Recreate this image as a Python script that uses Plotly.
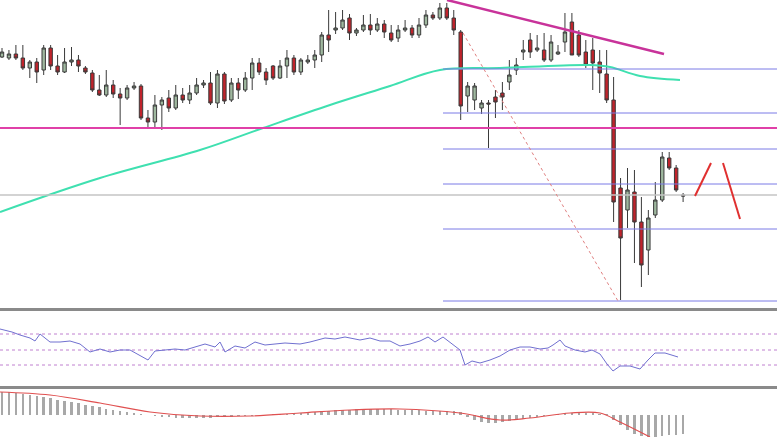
import numpy as np
import plotly.graph_objects as go

# candle values (screen units, top = 0)
opens = [57, 58, 54, 58, 68, 62, 70, 48, 66, 72, 62, 60, 68, 73, 90, 95, 85, 94, 98, 88,
         86, 118, 122, 105, 98, 108, 95, 100, 93, 85, 83, 103, 74, 100, 83, 90, 78, 63, 72, 66,
         78, 66, 58, 72, 62, 60, 55, 35, 30, 28, 18, 33, 30, 25, 30, 24, 33, 38, 30, 28,
         35, 25, 15, 18, 8, 18, 32, 96, 100, 108, 103, 97, 93, 82, 70, 52, 40, 50, 50, 60,
         54, 42, 22, 35, 52, 50, 62, 74, 100, 188, 210, 192, 222, 250, 215, 200, 158,
         168, 195]
closes = [52, 54, 58, 68, 62, 72, 48, 66, 72, 62, 60, 66, 72, 90, 95, 85, 94, 98, 88, 86,
          118, 122, 105, 100, 108, 95, 100, 93, 85, 83, 103, 74, 101, 83, 90, 78, 63, 72, 80, 78,
          66, 58, 72, 60, 60, 55, 35, 40, 28, 20, 33, 30, 25, 30, 24, 32, 40, 30, 28, 35,
          25, 15, 18, 8, 18, 30, 106, 86, 86, 103, 104, 102, 97, 75, 65, 50, 52, 48, 60, 42,
          52, 32, 55, 55, 65, 63, 73, 100, 202, 238, 190, 222, 265, 218, 200, 157, 168,
          190, 196]
highs = [48, 50, 45, 45, 60, 58, 45, 45, 55, 48, 47, 55, 66, 70, 75, 70, 80, 88, 85, 82,
         84, 110, 95, 97, 90, 85, 88, 85, 78, 80, 72, 70, 72, 78, 78, 72, 58, 58, 68, 65,
         60, 50, 55, 58, 55, 50, 32, 10, 12, 10, 14, 28, 15, 14, 18, 20, 25, 25, 20, 25,
         18, 10, 12, 3, 3, 10, 30, 82, 83, 100, 100, 90, 82, 60, 58, 40, 33, 35, 33, 35,
         45, 13, 13, 30, 40, 38, 50, 50, 77, 178, 168, 170, 197, 210, 182, 152, 152,
         165, 193]
lows = [58, 60, 60, 70, 78, 83, 75, 70, 75, 73, 66, 72, 74, 92, 96, 97, 98, 125, 100, 90,
        120, 128, 128, 130, 112, 110, 103, 104, 95, 88, 105, 108, 104, 102, 99, 92, 90, 75, 85, 80,
        79, 78, 75, 75, 64, 68, 62, 52, 34, 30, 40, 36, 32, 35, 32, 38, 42, 42, 32, 38,
        38, 28, 20, 20, 20, 35, 120, 112, 110, 114, 148, 118, 110, 90, 75, 60, 58, 52, 62, 62,
        55, 52, 55, 57, 68, 90, 93, 103, 222, 300, 228, 263, 287, 275, 218, 202, 170,
        192, 202]

ma_px = [0, 100, 200, 263, 330, 390, 440, 500, 590, 610, 640, 680]
ma_py = [212, 178, 150, 128, 105, 86, 70, 68, 65, 67, 76, 80]

fib_levels = [69, 113, 149, 184, 229, 301]

rsi_px = [0, 12, 20, 30, 35, 40, 50, 60, 70, 80, 90, 100, 110, 120, 130, 140, 148, 155, 165, 175,
          185, 195, 205, 215, 220, 225, 235, 245, 255, 265, 275, 285, 300, 310, 325, 335, 345, 360,
          370, 380, 390, 400, 410, 420, 428, 435, 443, 450, 460, 465, 472, 480, 490, 500, 510, 520,
          530, 540, 548, 553, 560, 565, 575, 585, 592, 600, 607, 613, 620, 630, 640, 648, 655, 665, 678]
rsi_py = [329, 332, 335, 338, 341, 334, 342, 342, 341, 344, 352, 349, 352, 350, 350, 356, 360, 351,
          350, 349, 350, 347, 344, 347, 342, 352, 346, 348, 342, 345, 344, 343, 344, 342, 338, 339,
          337, 340, 338, 341, 341, 346, 344, 341, 337, 342, 337, 342, 350, 365, 361, 363, 360, 356,
          350, 347, 347, 349, 348, 345, 340, 346, 350, 352, 350, 354, 364, 371, 366, 366, 369, 360,
          353, 353, 357]

macd_hist = [23, 23, 22, 21, 20, 19, 18, 17, 15, 14, 13, 12, 10, 9, 8, 6, 5, 4, 3, 2, 1, 0,
             -1, -2, -2, -3, -3, -3, -3, -3, -3, -2, -2, -2, -1, -1, -1, 0, 0, 1, 1, 1, 2, 2, 3,
             3, 4, 4, 5, 5, 5, 6, 6, 6, 6, 6, 6, 5, 5, 5, 5, 4, 4, 4, 4, 4, 3,
             -2, -5, -7, -8, -8, -7, -6, -5, -4, -3, -2, -1, 0, 1,
             2, 2, 2, 2, 2, 1, 1,
             -5, -10, -15, -19, -21, -22, -22, -21, -20, -20, -19]
sig_px = [0, 50, 100, 150, 200, 250, 300, 350, 400, 460, 500, 530, 570, 600, 620, 650]
sig_py = [392, 395, 403, 412, 416, 416, 413, 410, 409, 413, 420, 418, 413, 413, 422, 437]

W, H = 777, 437
STEP = 6.95


def ix(px):
    return (np.asarray(px, dtype=float) - 2) / STEP


def pr(py):
    return 310 - np.asarray(py, dtype=float)


n = len(opens)
xs = np.arange(n)
fig = go.Figure()

fig.add_trace(go.Candlestick(
    x=xs, open=pr(opens), high=pr(highs), low=pr(lows), close=pr(closes),
    increasing=dict(fillcolor="#9fb89f", line=dict(color="#3a3a3a", width=1)),
    decreasing=dict(fillcolor="#c0232b", line=dict(color="#3a3a3a", width=1)),
    whiskerwidth=0, showlegend=False))

fig.add_trace(go.Scatter(x=ix(ma_px), y=pr(ma_py), mode="lines",
                         line=dict(color="#3fe0b0", width=2), line_shape="spline"))

line_x = [ix(0), ix(W)]
fib_x = [ix(443), ix(W)]
for lv in fib_levels:
    fig.add_trace(go.Scatter(x=fib_x, y=pr([lv, lv]), mode="lines",
                             line=dict(color="#7a7ae6", width=1)))
fig.add_trace(go.Scatter(x=line_x, y=pr([195, 195]), mode="lines",
                         line=dict(color="#c4c4c4", width=1.5)))
fig.add_trace(go.Scatter(x=line_x, y=pr([128, 128]), mode="lines",
                         line=dict(color="#e040a8", width=2)))
fig.add_trace(go.Scatter(x=ix([447, 664]), y=pr([0, 54]), mode="lines",
                         line=dict(color="#c8339a", width=2.5)))
fig.add_trace(go.Scatter(x=ix([463, 618]), y=pr([33, 301]), mode="lines",
                         line=dict(color="#e08080", width=1, dash="dot")))
fig.add_trace(go.Scatter(x=ix([695, 711]), y=pr([196, 163]), mode="lines",
                         line=dict(color="#e03030", width=2)))
fig.add_trace(go.Scatter(x=ix([723, 740]), y=pr([163, 219]), mode="lines",
                         line=dict(color="#e03030", width=2)))

# RSI panel
for lv in [334, 350, 365]:
    fig.add_trace(go.Scatter(x=line_x, y=[lv, lv], mode="lines", yaxis="y2",
                             line=dict(color="#c080d0", width=1, dash="dot")))
fig.add_trace(go.Scatter(x=ix(rsi_px), y=rsi_py, mode="lines", yaxis="y2",
                         line=dict(color="#7070d0", width=1)))

# MACD panel
hist = np.array(macd_hist, dtype=float)
fig.add_trace(go.Bar(x=xs, y=-hist, base=415, yaxis="y3", width=0.35,
                     marker=dict(color="#a8a8a8", line=dict(width=0))))
fig.add_trace(go.Scatter(x=ix(sig_px), y=sig_py, mode="lines", yaxis="y3",
                         line=dict(color="#e05050", width=1.2), line_shape="spline"))


def dom(top, bottom):
    return [1 - bottom / H, 1 - top / H]


fig.update_layout(
    width=W, height=H, margin=dict(l=0, r=0, t=0, b=0),
    paper_bgcolor="white", plot_bgcolor="white", showlegend=False,
    xaxis=dict(range=[ix(0), ix(W)], visible=False, rangeslider=dict(visible=False)),
    yaxis=dict(domain=dom(0, 307), range=[pr(307), pr(0)], visible=False),
    yaxis2=dict(domain=dom(312, 386), range=[386, 312], visible=False),
    yaxis3=dict(domain=dom(390, 437), range=[437, 390], visible=False),
    shapes=[
        dict(type="line", xref="paper", yref="paper", x0=0, x1=1,
             y0=1 - 309.5 / H, y1=1 - 309.5 / H, line=dict(color="#8a8a8a", width=3)),
        dict(type="line", xref="paper", yref="paper", x0=0, x1=1,
             y0=1 - 387.5 / H, y1=1 - 387.5 / H, line=dict(color="#8a8a8a", width=3)),
    ],
    bargap=0,
)

fig.write_html("out.html", config={"displayModeBar": False},
               post_script="document.body.style.margin='0';")
